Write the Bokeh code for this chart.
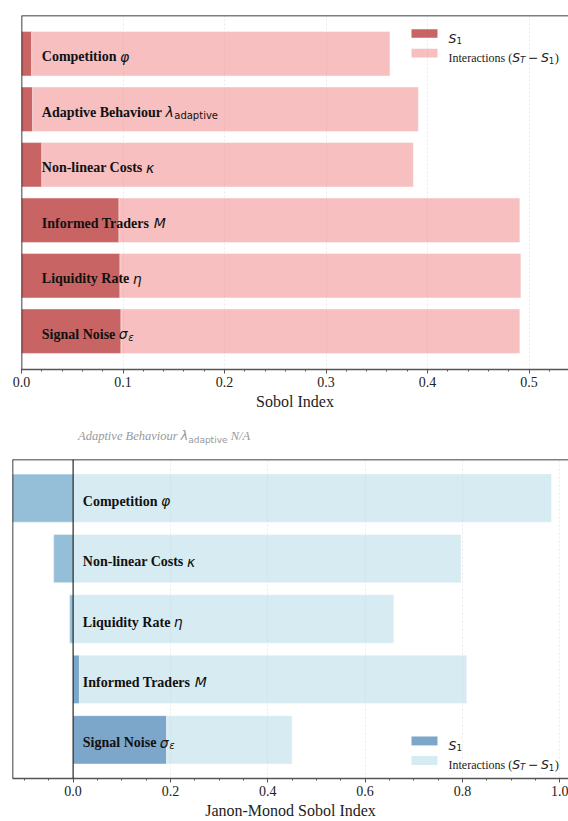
from bokeh.plotting import figure
from bokeh.models import (ColumnDataSource, Range1d, SingleIntervalTicker, Span, Label,
                          BoxAnnotation, PrintfTickFormatter, Div)
from bokeh.layouts import column
from bokeh.embed import file_html
from bokeh.resources import INLINE
from bokeh.core.properties import value

# ---------------- data ----------------
top_names = ["Competition", "Adaptive Behaviour", "Non-linear Costs",
             "Informed Traders", "Liquidity Rate", "Signal Noise"]
top_symbols = ["φ", "λ", "κ", "M", "η", "σ"]
top_subs = ["", "adaptive", "", "", "", "ε"]
top_s1 = [0.010, 0.011, 0.020, 0.096, 0.097, 0.098]
top_st = [0.363, 0.391, 0.386, 0.491, 0.492, 0.491]

bot_names = ["Competition", "Non-linear Costs", "Liquidity Rate",
             "Informed Traders", "Signal Noise"]
bot_symbols = ["φ", "κ", "η", "M", "σ"]
bot_subs = ["", "", "", "", "ε"]
bot_s1 = [-0.125, -0.040, -0.007, 0.013, 0.192]
bot_st = [0.983, 0.797, 0.659, 0.809, 0.450]

na_name = "Adaptive Behaviour"
na_symbol = "λ"
na_sub = "adaptive"
na_text = "N/A"
top_xlabel = "Sobol Index"
bot_xlabel = "Janon-Monod Sobol Index"

# ---------------- font metrics (per 1000 em) ----------------
SERIF_BOLD = dict(zip("ABCILMNRSTabcdefghilmnopqrstuvy -",
                      [722, 667, 722, 389, 667, 944, 722, 722, 556, 667,
                       500, 556, 444, 556, 444, 333, 500, 556, 278, 278, 833, 556, 500, 556,
                       556, 444, 389, 333, 556, 500, 500, 250, 333]))
SERIF = dict(zip("Intercaios()",
                 [333, 500, 278, 444, 333, 444, 444, 278, 500, 389, 333, 333]))
SERIF[" "] = 250
DEJAVU = {"S": 635, "T": 611, "M": 863, "1": 636, "−": 838, "φ": 654, "κ": 579,
          "η": 634, "σ": 634, "λ": 592, "ε": 537, "a": 613, "d": 635, "p": 635,
          "t": 392, "i": 278, "v": 592, "e": 615, " ": 318}


def tw(s, table, size):
    return sum(table.get(c, 500) for c in s) * size / 1000.0


SERIF_FONT = "Liberation Serif"
MATH_FONT = "DejaVu Sans"
LABEL_X = 0.02
LABEL_SIZE = 14
BORDER_LEFT = 22   # left border that Bokeh keeps in any case


def make_panel(names, symbols, subs, s1, st, frame, xr, yr, dark, dark_alpha,
               light, light_alpha, width, height, interval, nminor, xlabel, shift):
    FL, FT, FW, FH = frame
    p = figure(width=width, height=height, output_backend="svg", toolbar_location=None,
               x_range=Range1d(*xr), y_range=Range1d(*yr), y_axis_location=None,
               min_border_left=FL, min_border_right=0, min_border_top=FT,
               min_border_bottom=height - FT - FH, margin=(0, 0, 0, -shift))
    p.outline_line_color = None
    p.background_fill_color = "white"
    p.border_fill_color = "white"

    n = len(names)
    ys = [n - 1 - i for i in range(n)]
    sym_off = [tw(nm + " ", SERIF_BOLD, LABEL_SIZE) for nm in names]
    sub_off = [o + tw(s, DEJAVU, LABEL_SIZE) + 0.5 for o, s in zip(sym_off, symbols)]
    src = ColumnDataSource(dict(
        y=ys, s1=s1, st=st, zero=[0.0] * n, name=names, sym=symbols,
        sub_rm=[s if len(s) > 1 else "" for s in subs],
        sub_it=[s if len(s) == 1 else "" for s in subs],
        sym_off=sym_off, sub_off=sub_off))

    p.hbar(y="y", left="zero", right="s1", height=0.8, source=src,
           fill_color=dark, fill_alpha=dark_alpha, line_color="white", line_alpha=0.5,
           line_width=0.8)
    p.hbar(y="y", left="s1", right="st", height=0.8, source=src,
           fill_color=light, fill_alpha=light_alpha, line_color="white", line_alpha=0.5,
           line_width=0.8)

    base_dy = 3
    common = dict(x=LABEL_X, y="y", source=src, text_baseline="alphabetic",
                  text_align="left", text_color="#111111")
    p.text(text="name", text_font=value(SERIF_FONT), text_font_style="bold",
           text_font_size=f"{LABEL_SIZE}px", y_offset=base_dy, **common)
    p.text(text="sym", text_font=value(MATH_FONT), text_font_style="italic",
           text_font_size=f"{LABEL_SIZE}px", x_offset="sym_off", y_offset=base_dy, **common)
    p.text(text="sub_rm", text_font=value(MATH_FONT), text_font_style="normal",
           text_font_size="10px", x_offset="sub_off", y_offset=base_dy + 3, **common)
    p.text(text="sub_it", text_font=value(MATH_FONT), text_font_style="italic",
           text_font_size="10px", x_offset="sub_off", y_offset=base_dy + 3, **common)

    # axes
    p.ygrid.visible = False
    p.xgrid.grid_line_color = "#d8d8d8"
    p.xgrid.grid_line_alpha = 0.5
    p.xgrid.grid_line_dash = "2 2"
    p.xaxis.ticker = SingleIntervalTicker(interval=interval, num_minor_ticks=nminor)
    p.xgrid.ticker = SingleIntervalTicker(interval=interval, num_minor_ticks=nminor)
    p.xaxis.formatter = PrintfTickFormatter(format="%.1f")
    ax = p.xaxis[0]
    ax.axis_line_color = "#555555"
    ax.axis_line_width = 1.3
    ax.major_tick_line_color = "#555555"
    ax.minor_tick_line_color = "#555555"
    ax.major_tick_out = 4
    ax.major_tick_in = 0
    ax.minor_tick_out = 2
    ax.minor_tick_in = 0
    ax.major_label_text_font = SERIF_FONT
    ax.major_label_text_font_size = "14px"
    ax.major_label_text_color = "#222222"
    ax.major_label_standoff = 3
    ax.axis_label = xlabel
    ax.axis_label_text_font = SERIF_FONT
    ax.axis_label_text_font_size = "16px"
    ax.axis_label_text_font_style = "normal"
    ax.axis_label_text_color = "#222222"
    ax.axis_label_standoff = 3

    # left and top spines
    p.add_layout(Span(location=xr[0], dimension="height", line_color="black",
                      line_width=1.5))
    p.add_layout(Span(location=yr[1], dimension="width", line_color="black",
                      line_width=1.5))
    return p


def to_data(X, Y, frame, xr, yr, shift=0):
    FL, FT, FW, FH = frame
    x = xr[0] + (X + shift - FL) / FW * (xr[1] - xr[0])
    y = yr[1] - (Y - FT) / FH * (yr[1] - yr[0])
    return x, y


def add_run(p, X, Y, segs, frame, xr, yr, color, shift=0):
    xd, yd = to_data(X, Y, frame, xr, yr, shift)
    off = 0.0
    for text, font, style, size, dy, table, gap in segs:
        if text:
            p.add_layout(Label(x=xd, y=yd, x_offset=off, y_offset=-dy, text=text,
                               text_font=font, text_font_style=style,
                               text_font_size=f"{size}px", text_baseline="alphabetic",
                               text_align="left", text_color=color))
        off += tw(text, table, size) + gap


def add_legend(p, frame, xr, yr, rows_y, dark, dark_alpha, light, light_alpha, shift):
    (y1a, y1b), (y2a, y2b) = rows_y
    for (ya, yb), col, alp in (((y1a, y1b), dark, dark_alpha), ((y2a, y2b), light, light_alpha)):
        x0, yt = to_data(411, ya, frame, xr, yr, shift)
        x1, yb_ = to_data(437, yb, frame, xr, yr, shift)
        p.add_layout(BoxAnnotation(left=x0, right=x1, top=yt, bottom=yb_,
                                   fill_color=col, fill_alpha=alp, line_color=None,
                                   level="overlay"))
    c1 = (y1a + y1b) / 2 + 4.5
    c2 = (y2a + y2b) / 2 + 4.5
    M = 12.5
    sub = 8.7
    add_run(p, 448, c1, [("S", MATH_FONT, "italic", M, 0, DEJAVU, 0),
                         ("1", MATH_FONT, "normal", sub, 2.5, DEJAVU, 0)],
            frame, xr, yr, "#222222", shift)
    add_run(p, 448, c2, [("Interactions (", SERIF_FONT, "normal", 12, 0, SERIF, 0),
                         ("S", MATH_FONT, "italic", M, 0, DEJAVU, 0),
                         ("T", MATH_FONT, "italic", sub, 2.5, DEJAVU, 2.5),
                         ("−", MATH_FONT, "normal", M, 0, DEJAVU, 2.5),
                         ("S", MATH_FONT, "italic", M, 0, DEJAVU, 0),
                         ("1", MATH_FONT, "normal", sub, 2.5, DEJAVU, 0.5),
                         (")", SERIF_FONT, "normal", 12.5, 0, SERIF, 0)],
            frame, xr, yr, "#222222", shift)


W = 568
H1 = 417
HM = 30
H2 = 821 - H1 - HM

# ---------------- top panel (frame left on the page at x = 21) ----------------
shift1 = BORDER_LEFT - 21
frame1 = (BORDER_LEFT, 15, W - 21, 354)
xr1 = (0.0, (W - 21) / 1015.0)
yr1 = (-0.69, len(top_names) - 1 + 0.69)
p1 = make_panel(top_names, top_symbols, top_subs, top_s1, top_st, frame1, xr1, yr1,
                "firebrick", 0.7, "lightcoral", 0.5, W + shift1, H1, 0.1, 5, top_xlabel,
                shift1)
add_legend(p1, frame1, xr1, yr1, ((28.7, 37.3), (48.3, 57.0)),
           "firebrick", 0.7, "lightcoral", 0.5, shift1)

# ---------------- middle note (parameter not available) ----------------
note_html = (
    "<div style=\"padding-left:78px;padding-top:13px;white-space:nowrap;line-height:1;"
    "font-family:'Liberation Serif';font-style:italic;font-size:12.5px;color:#999999;\">"
    f"{na_name} "
    "<span style=\"font-family:'DejaVu Sans';font-style:italic;\">"
    f"{na_symbol}<span style=\"font-style:normal;font-size:9px;position:relative;top:2.5px;\">"
    f"{na_sub}</span></span> {na_text}</div>"
)
note = Div(text=note_html, width=W, height=HM, margin=(0, 0, 0, 0))

# ---------------- bottom panel (frame left on the page at x = 12) ----------------
shift2 = BORDER_LEFT - 12
frame2 = (BORDER_LEFT, 12, W - 12, 321)
xr2 = (-0.1245, -0.1245 + (W - 12) / 486.7)
yr2 = (-0.64, len(bot_names) - 1 + 0.64)
p2 = make_panel(bot_names, bot_symbols, bot_subs, bot_s1, bot_st, frame2, xr2, yr2,
                "steelblue", 0.7, "lightblue", 0.5, W + shift2, H2, 0.2, 4, bot_xlabel,
                shift2)
p2.add_layout(Span(location=0, dimension="height", line_color="black", line_width=1))
add_legend(p2, frame2, xr2, yr2, ((290.7, 299.7), (310.3, 319.3)),
           "steelblue", 0.7, "lightblue", 0.5, shift2)

layout = column(p1, note, p2, width=W + shift2, height=821)
open("out.html", "w").write(file_html(layout, INLINE))
